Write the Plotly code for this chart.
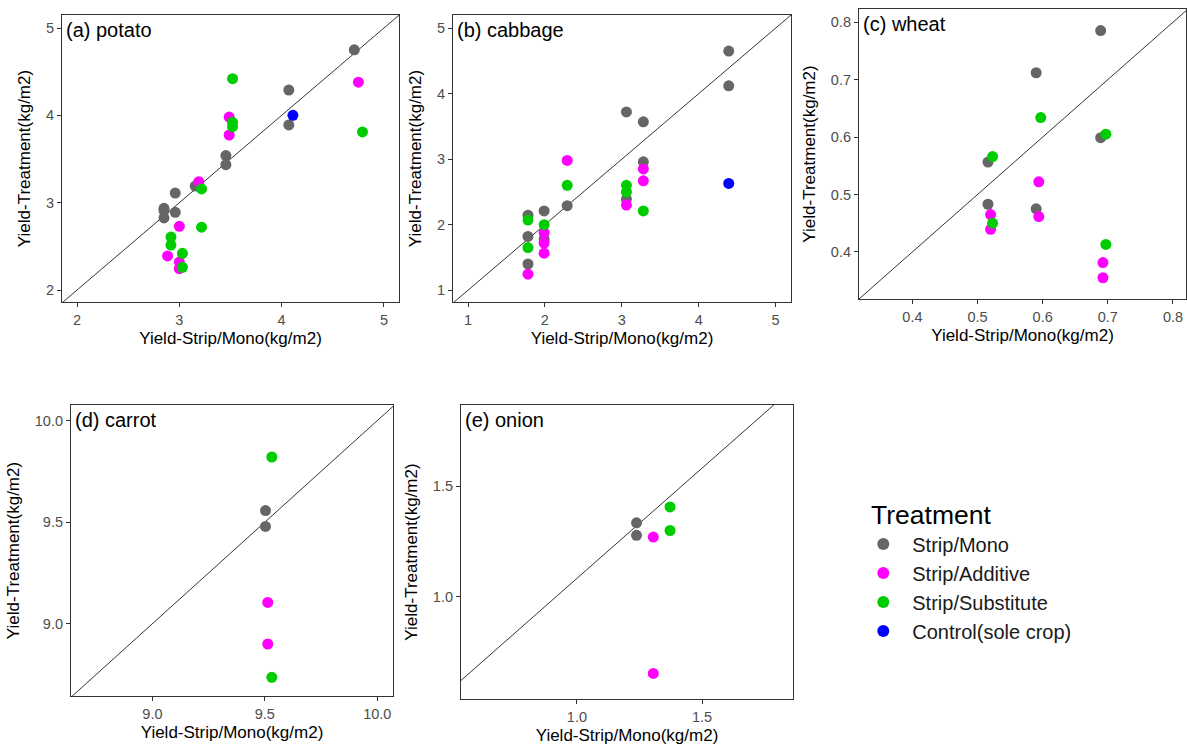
import plotly.graph_objects as go

W, H = 1187, 747

treatments = ["Strip/Mono", "Strip/Additive", "Strip/Substitute", "Control(sole crop)"]
colors = ["#666666", "#FF00FF", "#00CD00", "#0000FF"]

# ---- (a) potato ----
potato_mono_x = [4.71, 4.07, 4.07, 3.455, 3.455, 3.155, 2.96, 2.85, 2.85, 2.85, 2.96]
potato_mono_y = [4.75, 4.29, 3.89, 3.54, 3.435, 3.19, 3.11, 2.935, 2.91, 2.825, 2.89]
potato_add_x = [4.75, 3.487, 3.487, 3.19, 3.0, 2.885, 3.0, 3.0]
potato_add_y = [4.38, 3.98, 3.775, 3.24, 2.73, 2.39, 2.32, 2.245]
potato_sub_x = [3.52, 3.52, 3.52, 4.79, 3.217, 3.217, 2.918, 2.918, 3.03, 3.03]
potato_sub_y = [4.42, 3.92, 3.87, 3.81, 3.157, 2.72, 2.607, 2.515, 2.42, 2.26]
potato_ctrl_x = [4.11]
potato_ctrl_y = [4.0]

# ---- (b) cabbage ----
cabbage_mono_x = [4.39, 4.39, 3.06, 3.28, 3.28, 3.06, 2.29, 1.99, 1.78, 1.78, 1.99, 1.78]
cabbage_mono_y = [4.65, 4.12, 3.72, 3.57, 2.96, 2.39, 2.29, 2.21, 2.145, 1.82, 1.78, 1.40]
cabbage_add_x = [2.29, 3.28, 3.28, 3.06, 1.99, 1.99, 1.99, 1.78]
cabbage_add_y = [2.98, 2.85, 2.67, 2.30, 1.88, 1.72, 1.565, 1.245]
cabbage_sub_x = [2.29, 3.06, 3.06, 3.28, 1.78, 1.99, 1.78]
cabbage_sub_y = [2.60, 2.60, 2.50, 2.21, 2.07, 2.00, 1.65]
cabbage_ctrl_x = [4.39]
cabbage_ctrl_y = [2.63]

# ---- (c) wheat ----
wheat_mono_x = [0.689, 0.590, 0.689, 0.516, 0.516, 0.590]
wheat_mono_y = [0.7855, 0.712, 0.599, 0.5565, 0.483, 0.475]
wheat_add_x = [0.594, 0.594, 0.520, 0.520, 0.6925, 0.6925]
wheat_add_y = [0.522, 0.4615, 0.465, 0.4394, 0.3814, 0.355]
wheat_sub_x = [0.597, 0.697, 0.523, 0.523, 0.697]
wheat_sub_y = [0.634, 0.605, 0.566, 0.450, 0.413]

# ---- (d) carrot ----
carrot_mono_x = [9.503, 9.503]
carrot_mono_y = [9.557, 9.479]
carrot_add_x = [9.513, 9.513]
carrot_add_y = [9.105, 8.90]
carrot_sub_x = [9.531, 9.531]
carrot_sub_y = [9.821, 8.736]

# ---- (e) onion ----
onion_mono_x = [1.238, 1.238]
onion_mono_y = [1.335, 1.278]
onion_add_x = [1.305, 1.305]
onion_add_y = [1.270, 0.652]
onion_sub_x = [1.372, 1.372]
onion_sub_y = [1.407, 1.300]

panel_labels = ["(a) potato", "(b) cabbage", "(c) wheat", "(d) carrot", "(e) onion"]
x_ticks = [[2, 3, 4, 5], [1, 2, 3, 4, 5], [0.4, 0.5, 0.6, 0.7, 0.8], [9.0, 9.5, 10.0], [1.0, 1.5]]
y_ticks = [[2, 3, 4, 5], [1, 2, 3, 4, 5], [0.4, 0.5, 0.6, 0.7, 0.8], [9.0, 9.5, 10.0], [1.0, 1.5]]
tick_fmt = ["d", "d", ".1f", ".1f", ".1f"]
x_title = "Yield-Strip/Mono(kg/m2)"
y_title = "Yield-Treatment(kg/m2)"

panels = [
    [(potato_mono_x, potato_mono_y), (potato_add_x, potato_add_y), (potato_sub_x, potato_sub_y), (potato_ctrl_x, potato_ctrl_y)],
    [(cabbage_mono_x, cabbage_mono_y), (cabbage_add_x, cabbage_add_y), (cabbage_sub_x, cabbage_sub_y), (cabbage_ctrl_x, cabbage_ctrl_y)],
    [(wheat_mono_x, wheat_mono_y), (wheat_add_x, wheat_add_y), (wheat_sub_x, wheat_sub_y), ([], [])],
    [(carrot_mono_x, carrot_mono_y), (carrot_add_x, carrot_add_y), (carrot_sub_x, carrot_sub_y), ([], [])],
    [(onion_mono_x, onion_mono_y), (onion_add_x, onion_add_y), (onion_sub_x, onion_sub_y), ([], [])],
]

# layout (pixel boxes of each panel: left, right, top, bottom)
boxes = [(62, 399, 15, 302), (453, 791, 15, 302), (859, 1186, 9, 299),
         (71, 393, 405, 696), (461, 793, 405, 699)]
x_ranges = [(1.853, 5.147), (0.805, 5.2), (0.318, 0.82), (8.638, 10.07), (0.537, 1.863)]
y_ranges = [(1.863, 5.149), (0.82, 5.2), (0.318, 0.823), (8.644, 10.077), (0.536, 1.869)]
diag_offset = [0, 0, 0, 0, 0.083]

fig = go.Figure()
layout = dict(
    width=W, height=H, margin=dict(l=0, r=0, t=0, b=0),
    paper_bgcolor="white", plot_bgcolor="white",
    font=dict(family="Liberation Sans, Arial, sans-serif"),
    shapes=[], annotations=[],
)

for i, (data, box) in enumerate(zip(panels, boxes)):
    n = "" if i == 0 else str(i + 1)
    xa, ya = "x" + n, "y" + n
    l, r, t, b = box
    axis_common = dict(
        showgrid=False, zeroline=False, showline=True, mirror=True,
        linecolor="#333333", linewidth=1.2, ticks="outside", ticklen=4,
        tickcolor="#333333", tickfont=dict(size=14.5, color="#4D4D4D"),
        tickformat=tick_fmt[i],
        title_font=dict(size=17, color="black"),
    )
    layout["xaxis" + n] = dict(axis_common, domain=[l / W, r / W], anchor=ya,
                               range=list(x_ranges[i]), tickvals=x_ticks[i],
                               title=dict(text=x_title, standoff=5))
    layout["yaxis" + n] = dict(axis_common, domain=[1 - b / H, 1 - t / H], anchor=xa,
                               range=list(y_ranges[i]), tickvals=y_ticks[i],
                               title=dict(text=y_title, standoff=10))
    x0, x1 = x_ranges[i]
    off = diag_offset[i]
    layout["shapes"].append(dict(type="line", xref=xa, yref=ya, x0=x0, y0=x0 + off,
                                 x1=x1, y1=x1 + off, line=dict(color="black", width=0.8),
                                 layer="below"))
    layout["annotations"].append(dict(text=panel_labels[i], xref=xa + " domain", yref=ya + " domain",
                                      x=0.0, y=1.0, xanchor="left", yanchor="top",
                                      xshift=2, yshift=-2, showarrow=False,
                                      font=dict(size=20, color="black")))
    for k, (xs, ys) in enumerate(data):
        fig.add_trace(go.Scatter(
            x=xs, y=ys, mode="markers", xaxis=xa, yaxis=ya,
            name=treatments[k], legendgroup=treatments[k],
            showlegend=(i == 1),
            marker=dict(color=colors[k], size=11, line=dict(width=0)),
        ))

layout["legend"] = dict(
    x=0.7197, y=1 - 490 / H, xanchor="left", yanchor="top",
    title=dict(text="\u00a0\u00a0Treatment", font=dict(size=26.5, color="black")),
    font=dict(size=20, color="#1a1a1a"),
    bgcolor="rgba(0,0,0,0)", itemsizing="constant", tracegroupgap=0,
    itemwidth=48,
)
fig.update_layout(**layout)
fig.write_html("out.html", config={"displayModeBar": False},
               post_script="document.body.style.margin='0px';")
